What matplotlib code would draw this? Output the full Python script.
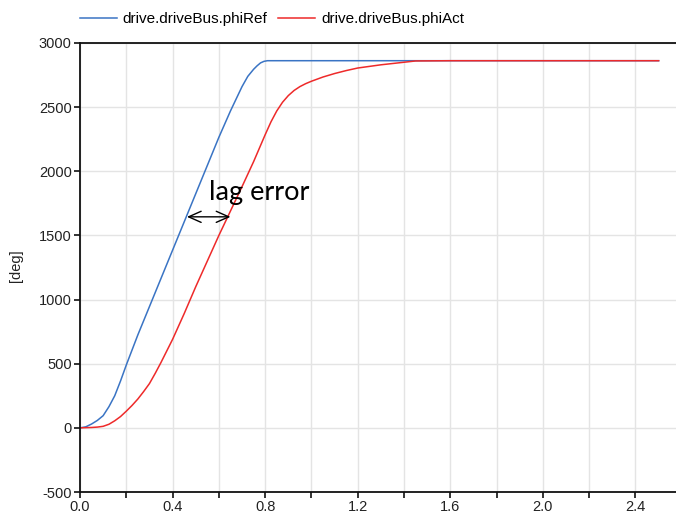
import matplotlib
matplotlib.use("Agg")
import matplotlib.pyplot as plt
from matplotlib.ticker import MultipleLocator, FuncFormatter

# reference angle from the drive bus (deg)
t_ref = [0.0, 0.025, 0.05, 0.075, 0.1, 0.125, 0.15, 0.175, 0.2, 0.25, 0.3, 0.35,
         0.4, 0.45, 0.5, 0.55, 0.6, 0.65, 0.7, 0.725, 0.75, 0.765, 0.78, 0.795,
         0.81, 2.5]
phi_ref = [0, 8, 30, 58, 95, 165, 250, 365, 490, 725, 945, 1165,
           1385, 1605, 1825, 2045, 2265, 2470, 2660, 2740, 2795, 2822, 2845, 2857,
           2862, 2862]

# actual angle lagging behind the reference (deg)
t_act = [0.0, 0.05, 0.075, 0.1, 0.125, 0.15, 0.175, 0.2, 0.225, 0.25, 0.275,
         0.3, 0.325, 0.35, 0.375, 0.4, 0.425, 0.45, 0.5, 0.55, 0.6, 0.65, 0.7,
         0.75, 0.775, 0.8, 0.825, 0.85, 0.875, 0.9, 0.925, 0.95, 0.975, 1.0,
         1.05, 1.1, 1.15, 1.2, 1.3, 1.4, 1.45, 1.6, 2.5]
phi_act = [0, 3, 6, 12, 28, 55, 88, 130, 175, 225, 283,
           345, 425, 510, 600, 690, 790, 890, 1100, 1300, 1500, 1690, 1880,
           2075, 2180, 2285, 2385, 2470, 2538, 2590, 2630, 2660, 2683, 2702,
           2735, 2762, 2785, 2805, 2830, 2850, 2860, 2862, 2862]

series_names = ["drive.driveBus.phiRef", "drive.driveBus.phiAct"]

# lag error marker: level and the two crossing times
lag_level = 1645
lag_t0, lag_t1 = 0.462, 0.65

plt.rcParams['font.family'] = ['Liberation Sans', 'DejaVu Sans']
plt.rcParams['axes.unicode_minus'] = False

fig = plt.figure(figsize=(6.76, 5.19), dpi=100)
ax = fig.add_axes([80 / 676, 27 / 519, 596 / 676, 449 / 519])

ax.plot(t_ref, phi_ref, color='#3a74c4', lw=1.1, label=series_names[0])
ax.plot(t_act, phi_act, color='#ee2a2a', lw=1.1, label=series_names[1])

ax.set_xlim(0, 2.575)
ax.set_ylim(-500, 3000)

ax.xaxis.set_major_locator(MultipleLocator(0.4))
ax.xaxis.set_minor_locator(MultipleLocator(0.2))
ax.xaxis.set_major_formatter(FuncFormatter(lambda v, p: f"{v:.1f}"))
ax.yaxis.set_major_locator(MultipleLocator(500))

ax.grid(True, which='both', axis='x', color='#e4e4e4', lw=1)
ax.grid(True, which='major', axis='y', color='#e4e4e4', lw=1)
ax.set_axisbelow(True)

for side in ['left', 'bottom', 'top']:
    ax.spines[side].set_color('#111111')
    ax.spines[side].set_linewidth(1.3)
ax.spines['right'].set_visible(False)

ax.tick_params(axis='both', which='both', direction='out', length=4,
               width=1.2, color='#111111', labelsize=10.5, labelcolor='#222222')
ax.tick_params(axis='x', pad=2)
ax.tick_params(axis='y', pad=2)

fig.text(16 / 676, 1 - 266 / 519, "[deg]", rotation=90, ha='center', va='center',
         fontsize=10.5, color='#222222')

ax.legend(loc='center left', bbox_to_anchor=(80 / 676, 1 - 19 / 519),
          bbox_transform=fig.transFigure, ncol=2, frameon=False,
          fontsize=11, handlelength=2.4, handletextpad=0.4,
          columnspacing=0.7, borderpad=0, borderaxespad=0)

ax.annotate('', xy=(lag_t0, lag_level), xytext=(lag_t1, lag_level),
            arrowprops=dict(arrowstyle='<->, head_length=0.9, head_width=0.4',
                            color='black', lw=1, shrinkA=0, shrinkB=0,
                            mutation_scale=10))
ax.text(0.558, 1777, "lag error", fontsize=19.5, family=['Lato', 'DejaVu Sans'],
        color='black', va='baseline', ha='left')

fig.savefig("out.png", dpi=100)
